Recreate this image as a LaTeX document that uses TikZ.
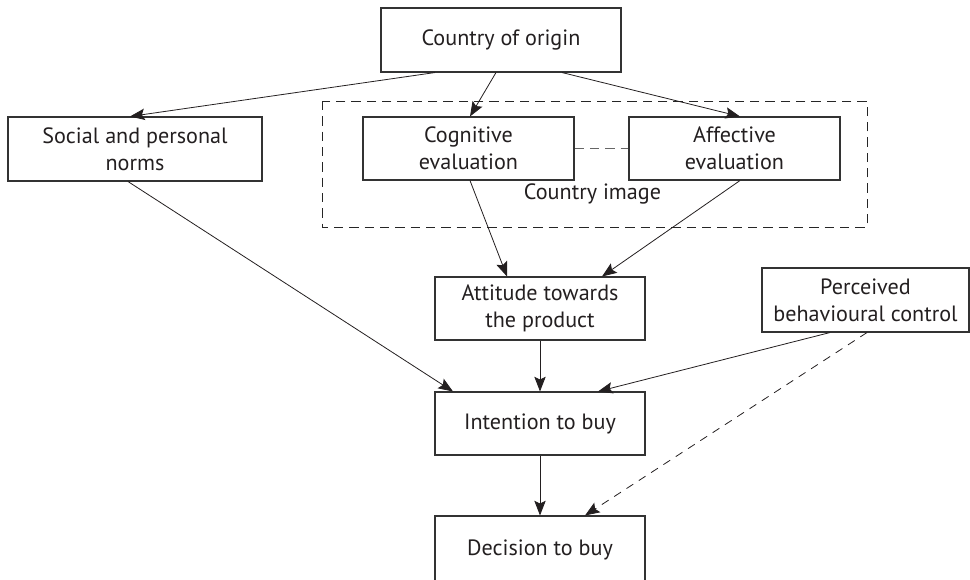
\documentclass[tikz,border=0pt]{standalone}
\usepackage{fontspec}
\setmainfont{PT Sans}
\usetikzlibrary{arrows.meta,calc}
\definecolor{ink}{HTML}{231F20}
\begin{document}
\begin{tikzpicture}[x=0.75pt,y=-0.75pt,
 box/.style={draw=black!80,line width=0.8pt,rectangle,align=center,inner sep=0pt,text=ink,font=\fontsize{16.6}{20}\selectfont},
 arr/.style={line width=0.6pt,draw=ink,-{Stealth[length=11pt,width=8.5pt,inset=2pt]}},
 darr/.style={arr,dash pattern=on 6pt off 5pt},
 grp/.style={draw=black!85,line width=0.7pt,dash pattern=on 7pt off 4.5pt},
 lbl/.style={font=\fontsize{16.6}{20}\selectfont,inner sep=0pt,text=ink}
 ]
\useasboundingbox (0,0) rectangle (970,579);
\node[box,minimum width=180pt,minimum height=48pt] (coo) at (501,40) {Country of origin};
\node[box,minimum width=190.5pt,minimum height=48pt] (soc) at (135,149) {Social and personal\\norms};
\draw[grp] (322,101) rectangle (867,227);
\node[box,minimum width=158.25pt,minimum height=47.25pt] (cog) at (468.5,148.5) {Cognitive\\evaluation};
\node[box,minimum width=158.25pt,minimum height=47.25pt] (aff) at (734.5,148.5) {Affective\\evaluation};
\node[lbl] (ci) at (592.5,194) {Country image};
\node[box,minimum width=157.5pt,minimum height=47.25pt] (att) at (540,308.5) {Attitude towards\\the product};
\node[box,minimum width=155.25pt,minimum height=48pt] (pbc) at (865.5,300) {Perceived\\behavioural control};
\node[box,minimum width=157.5pt,minimum height=47.25pt] (int) at (540,423.5) {Intention to buy};
\node[box,minimum width=157.5pt,minimum height=51pt] (dec) at (540,550) {Decision to buy};

\draw[grp,draw=black!60] (cog.east) -- (aff.west);
\draw[arr] ($(coo.south)+(-66,0)$) -- ($(soc.north)+(-5,0)$);
\draw[arr] ($(coo.south)+(-5,0)$) -- ($(cog.north)+(1.5,0)$);
\draw[arr] ($(coo.south)+(61,0)$) -- ($(aff.north)+(5.5,0)$);
\draw[arr] ($(soc.south)+(-7,0)$) -- ($(int.north)+(-87,0)$);
\draw[arr] ($(cog.south)+(1.5,0)$) -- ($(att.north)+(-33,0)$);
\draw[arr] ($(aff.south)+(5.5,0)$) -- ($(att.north)+(62,0)$);
\draw[arr] (att.south) -- (int.north);
\draw[arr] ($(pbc.south)+(-35.5,0)$) -- ($(int.north)+(58,0)$);
\draw[darr] ($(pbc.south)+(1.5,0)$) -- ($(dec.north)+(45,0)$);
\draw[arr] (int.south) -- (dec.north);
\end{tikzpicture}
\end{document}
